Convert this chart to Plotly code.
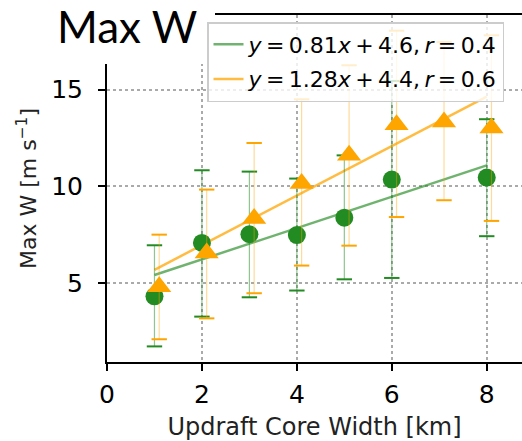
import plotly.graph_objects as go

# ---- data ----
green_x = [1, 2, 3, 4, 5, 6, 8]
green_mean = [4.31, 7.07, 7.52, 7.48, 8.38, 10.35, 10.45]
green_high = [6.95, 10.83, 10.76, 10.40, 11.60, 15.45, 13.47]
green_low = [1.72, 3.26, 4.26, 4.61, 5.19, 5.26, 7.42]

orange_x = [1.1, 2.1, 3.1, 4.1, 5.1, 6.1, 7.1, 8.1]
orange_mean = [4.81, 6.55, 8.33, 10.14, 11.60, 13.19, 13.33, 13.02]
orange_high = [7.50, 9.83, 12.24, 14.50, 16.26, 18.05, 17.46, 17.81]
orange_low = [2.09, 3.17, 4.47, 5.90, 6.93, 8.41, 9.28, 8.21]

fit_x = [1, 8]
green_fit_y = [5.41, 11.08]
orange_fit_y = [5.68, 14.64]

S = "\u2009"  # thin space, like mathtext operator spacing
green_label = f"<i>y</i>{S}={S}0.81<i>x</i>{S}+{S}4.6,{S}<i>r</i>{S}={S}0.4"
orange_label = f"<i>y</i>{S}={S}1.28<i>x</i>{S}+{S}4.4,{S}<i>r</i>{S}={S}0.6"

x_ticks = [0, 2, 4, 6, 8]
y_ticks = [5, 10, 15]

GREEN = "#228B22"
ORANGE = "#FFA500"
FONT = "DejaVu Sans"

fig = go.Figure()

# fit lines (legend entries)
fig.add_trace(go.Scatter(x=fit_x, y=green_fit_y, mode="lines", name=green_label,
                         legendgroup="g",
                         line=dict(color="rgba(34,139,34,0.65)", width=2.5)))
fig.add_trace(go.Scatter(x=fit_x, y=orange_fit_y, mode="lines", name=orange_label,
                         legendgroup="o",
                         line=dict(color="rgba(255,165,0,0.75)", width=2.5)))


def add_series(xs, mean, high, low, color, bar_color, symbol, size):
    plus = [h - m for h, m in zip(high, mean)]
    minus = [m - l for m, l in zip(mean, low)]
    # caps
    fig.add_trace(go.Scatter(x=xs + xs, y=high + low, mode="markers", showlegend=False,
                             hoverinfo="skip",
                             marker=dict(symbol="line-ew", size=11,
                                         line=dict(color=color, width=2))))
    # points with thin error bars
    fig.add_trace(go.Scatter(x=xs, y=mean, mode="markers", showlegend=False,
                             marker=dict(symbol=symbol, size=size, color=color,
                                         line=dict(width=0)),
                             error_y=dict(type="data", symmetric=False, array=plus,
                                          arrayminus=minus, color=bar_color,
                                          thickness=1.2, width=0)))


add_series(green_x, green_mean, green_high, green_low, GREEN,
           "rgba(34,139,34,0.5)", "circle", 18)
add_series(orange_x, orange_mean, orange_high, orange_low, ORANGE,
           "rgba(255,165,0,0.4)", "triangle-up", 21)

L, T, B = 107, 15, 79
W, H = 522, 441
PW, PH = W - L, H - T - B


def px_x(p):
    return (p - L) / PW


def px_y(p):
    return (H - B - p) / PH


axis_common = dict(
    showgrid=True, gridcolor="#aaaaaa", griddash="dot", gridwidth=1.5,
    showline=True, linecolor="black", linewidth=2,
    ticks="outside", ticklen=7, tickwidth=1.5, tickcolor="black",
    zeroline=False, tickfont=dict(family=FONT, size=25, color="black"),
)

fig.update_layout(
    width=W, height=H,
    margin=dict(l=L, r=0, t=T, b=B),
    plot_bgcolor="white", paper_bgcolor="white",
    font=dict(family=FONT, color="black"),
    xaxis=dict(range=[0, 8.743], tickvals=x_ticks, mirror=True,
               ticklabelstandoff=2,
               title=dict(text="Updraft Core Width [km]",
                          font=dict(family=FONT, size=24, color="#222222"),
                          standoff=14),
               **axis_common),
    yaxis=dict(range=[0.913, 18.86], tickvals=y_ticks,
               ticklabelstandoff=10,
               title=dict(text="Max W [m s<sup>−1</sup>]",
                          font=dict(family=FONT, size=22, color="#222222"),
                          standoff=8),
               **axis_common),
    legend=dict(x=px_x(207), y=px_y(22), xanchor="left", yanchor="top",
                bgcolor="rgba(255,255,255,0.8)", bordercolor="#cccccc",
                borderwidth=1.5, tracegroupgap=3,
                font=dict(family=FONT, size=22, color="black")),
    shapes=[dict(type="rect", xref="paper", yref="paper",
                 x0=px_x(-5), x1=px_x(215), y0=px_y(64), y1=px_y(-5),
                 fillcolor="white", line=dict(width=0), layer="above")],
    annotations=[dict(text="Max W", xref="paper", yref="paper",
                      x=px_x(55), y=px_y(26), xanchor="left", yanchor="middle",
                      height=44, valign="middle",
                      showarrow=False,
                      font=dict(family="Lato", size=44, color="black"))],
)

fig.write_html("out.html")
